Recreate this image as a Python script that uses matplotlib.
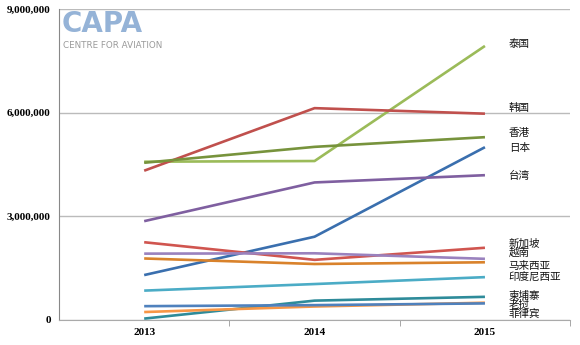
import matplotlib
matplotlib.use("Agg")
import matplotlib.pyplot as plt
from matplotlib.ticker import FuncFormatter

years = ["2013", "2014", "2015"]

countries = ["泰国", "韩国", "香港", "日本", "台湾", "新加坡", "越南",
             "马来西亚", "印度尼西亚", "柬埔寨", "老挝", "菲律宾"]

thailand = [4580000, 4600000, 7930000]
korea = [4320000, 6130000, 5970000]
hongkong = [4550000, 5010000, 5290000]
japan = [1300000, 2410000, 5000000]
taiwan = [2860000, 3980000, 4190000]
singapore = [2250000, 1740000, 2090000]
vietnam = [1920000, 1930000, 1770000]
malaysia = [1780000, 1620000, 1670000]
indonesia = [850000, 1040000, 1240000]
cambodia = [40000, 560000, 670000]
laos = [230000, 390000, 500000]
philippines = [400000, 430000, 480000]

series = [thailand, korea, hongkong, japan, taiwan, singapore, vietnam,
          malaysia, indonesia, cambodia, laos, philippines]

colors = ["#9BBB59", "#C0504D", "#77933C", "#3A6FAE", "#7F5FA0", "#D0554F",
          "#9A82BE", "#D9822B", "#4BACC6", "#2E8B9A", "#F79646", "#4F81BD"]

# label heights (data units), nudged apart where they crowd
label_y = [8000000, 6150000, 5400000, 4980000, 4170000, 2200000, 1950000,
           1570000, 1210000, 700000, 440000, 190000]

plt.rcParams['font.family'] = ['Noto Sans CJK SC', 'DejaVu Sans']

fig = plt.figure(figsize=(5.8, 3.45), dpi=100)
ax = fig.add_axes([0.1017, 0.0725, 0.8813, 0.9015])

x = list(range(len(years)))
for vals, c in zip(series, colors):
    ax.plot(x, vals, color=c, lw=1.9, solid_capstyle='butt', zorder=3)

for name, ly in zip(countries, label_y):
    ax.text(2.14, ly, name, fontsize=7.6, va='center', ha='left', color='#111111')

ax.set_xlim(-0.5, 2.5)
ax.set_ylim(0, 9000000)
ax.set_yticks([0, 3000000, 6000000, 9000000])
ax.yaxis.set_major_formatter(FuncFormatter(lambda v, p: f"{int(v):,}"))
ax.set_xticks(x)
ax.set_xticklabels(years)
ax.set_xticks([0.5, 1.5, 2.5], minor=True)
ax.tick_params(axis='x', which='major', length=0, pad=6)
ax.tick_params(axis='x', which='minor', length=4, color='#999999', direction='out')
ax.tick_params(axis='y', length=0, pad=6)
for lab in ax.get_xticklabels() + ax.get_yticklabels():
    lab.set_fontfamily('Liberation Serif')
    lab.set_fontweight('bold')
    lab.set_fontsize(8)

ax.grid(axis='y', color='#BBBBBB', lw=1)
ax.set_axisbelow(True)
for s in ['top', 'right']:
    ax.spines[s].set_visible(False)
ax.spines['left'].set_color('#888888')
ax.spines['bottom'].set_color('#AAAAAA')

# CAPA logo
fig.text(0.106, 0.906, "CAPA", fontsize=20, fontweight='bold', color='#95B3D7',
         family='DejaVu Sans', ha='left', va='baseline')
fig.text(0.108, 0.862, "CENTRE FOR AVIATION", fontsize=6.3, color='#9A9A9A',
         family='DejaVu Sans', ha='left', va='baseline')

fig.savefig("out.png", dpi=100)
